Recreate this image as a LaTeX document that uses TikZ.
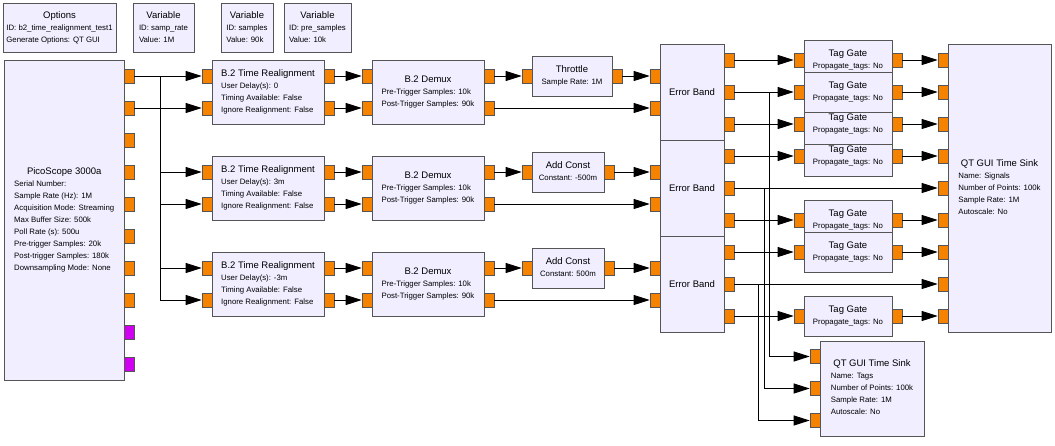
\documentclass[tikz,border=0pt]{standalone}
\usepackage{fontspec}
\setmainfont{Liberation Sans}
\usepackage{xcolor}
\definecolor{blkfill}{HTML}{F1EEFF}
\definecolor{blkline}{HTML}{555555}
\definecolor{portorange}{HTML}{F58200}
\definecolor{portmagenta}{HTML}{D000F0}
\usepackage{tikz}
\usetikzlibrary{arrows.meta}
\newcommand{\grcpar}{\fontsize{7.8}{12}\selectfont}
\newcommand{\grctitle}{\fontsize{9.5}{12}\selectfont}
\newcommand{\blocktext}[2]{\begin{tabular}{@{}l@{}}\multicolumn{1}{@{}c@{}}{\grctitle #1}\\#2\end{tabular}}

\begin{document}
\begin{tikzpicture}[x=1pt, y=-1pt,
  blk/.style={draw=blkline, line width=0.8pt, fill=blkfill, inner sep=0pt, font=\grcpar},
  wh/.style 2 args={minimum width=#1pt, minimum height=#2pt},
  prt/.style={draw=blkline, line width=0.6pt, fill=portorange, minimum width=10pt, minimum height=14pt, inner sep=0pt},
  bprt/.style={prt, fill=portmagenta},
  arr/.style={-{Triangle[length=16pt, width=10pt]}, line width=0.9pt}]
  \useasboundingbox (0,0) rectangle (1055,445);
  % variables and options
  \node[blk, wh={113}{49}] (opts) at (59.5,28)  {\blocktext{Options}{ID: b2\_time\_realignment\_test1\\Generate Options: QT GUI}};
  \node[blk, wh={61}{49}]  (var1) at (163.5,28) {\blocktext{Variable}{ID: samp\_rate\\Value: 1M}};
  \node[blk, wh={52}{49}]  (var2) at (247,28)   {\blocktext{Variable}{ID: samples\\Value: 90k}};
  \node[blk, wh={67}{49}]  (var3) at (317.5,28) {\blocktext{Variable}{ID: pre\_samples\\Value: 10k}};
  % source
  \node[blk, wh={119.5}{320}] (pico) at (64.25,220) {\blocktext{PicoScope 3000a}{Serial Number:\\Sample Rate (Hz): 1M\\Acquisition Mode: Streaming\\Max Buffer Size: 500k\\Poll Rate (s): 500u\\Pre-trigger Samples: 20k\\Post-trigger Samples: 180k\\Downsampling Mode: None}};
  \foreach \k in {1,...,8} \node[prt] (po\k) at (129,{44+32*\k}) {};
  \foreach \k in {9,10} \node[bprt] (po\k) at (129,{44+32*\k}) {};
  % realignment and demux rows
  \foreach \r/\d in {1/0,2/3m,3/-3m} {
    \node[blk, wh={112}{64}] (tr\r) at (268,{-4+96*\r}) {\blocktext{B.2 Time Realignment}{User Delay(s): \d\\Timing Available: False\\Ignore Realignment: False}};
    \node[blk, wh={112}{64}] (dm\r) at (428,{-4+96*\r}) {\blocktext{B.2 Demux}{Pre-Trigger Samples: 10k\\Post-Trigger Samples: 90k}};
    \node[blk, wh={64}{96}] (eb\r) at (692,{-4+96*\r}) {\grctitle Error Band};
    \foreach \p/\y in {1/-20,2/12} {
      \node[prt] (tr\r-in\p)  at (207,{\y+96*\r}) {};
      \node[prt] (tr\r-out\p) at (329,{\y+96*\r}) {};
      \node[prt] (dm\r-in\p)  at (367,{\y+96*\r}) {};
      \node[prt] (dm\r-out\p) at (489,{\y+96*\r}) {};
      \node[prt] (eb\r-in\p)  at (655,{\y+96*\r}) {};
    }
    \foreach \p/\y in {1/-36,2/-4,3/28} \node[prt] (eb\r-out\p) at (729,{\y+96*\r}) {};
  }
  \node[blk, wh={80}{40}] (mid1) at (572,76)  {\blocktext{Throttle}{Sample Rate: 1M}};
  \node[blk, wh={72}{40}] (mid2) at (568,172) {\blocktext{Add Const}{Constant: -500m}};
  \node[blk, wh={72}{40}] (mid3) at (568,268) {\blocktext{Add Const}{Constant: 500m}};
  \node[prt] (mid1-in) at (527,76)  {};
  \node[prt] (mid1-out) at (617,76) {};
  \node[prt] (mid2-in) at (527,172) {};
  \node[prt] (mid2-out) at (609,172) {};
  \node[prt] (mid3-in) at (527,268) {};
  \node[prt] (mid3-out) at (609,268) {};
  % tag gates
  \foreach \k/\y in {1/60,4/156,3/124,2/92,5/220,6/252,7/316} {
    \node[blk, wh={88}{40}] (tg\k) at (848,\y) {\blocktext{Tag Gate}{Propagate\_tags: No}};
    \node[prt] (tg\k-in) at (799,\y) {};
    \node[prt] (tg\k-out) at (897,\y) {};
  }
  % sinks
  \node[blk, wh={103}{288}] (sig) at (999.5,188) {\blocktext{QT GUI Time Sink}{Name: Signals\\Number of Points: 100k\\Sample Rate: 1M\\Autoscale: No}};
  \foreach \k in {1,...,9} \node[prt] (sig-in\k) at (943,{28+32*\k}) {};
  \node[blk, wh={104}{95}] (tags) at (872,388.5) {\blocktext{QT GUI Time Sink}{Name: Tags\\Number of Points: 100k\\Sample Rate: 1M\\Autoscale: No}};
  \foreach \k in {1,2,3} \node[prt] (tag-in\k) at (815,{324.5+32*\k}) {};
  % connections
  \coordinate (sp1) at (160,76);
  \coordinate (sp2) at (160,108);
  \draw[arr] (po1.east) -- (tr1-in1.west);
  \draw[arr] (po2.east) -- (tr1-in2.west);
  \foreach \r in {2,3} {
    \draw[arr] (po1.east) -- (sp1) |- (tr\r-in1.west);
    \draw[arr] (po2.east) -- (sp2) |- (tr\r-in2.west);
  }
  \foreach \r in {1,2,3} {
    \draw[arr] (tr\r-out1.east) -- (dm\r-in1.west);
    \draw[arr] (tr\r-out2.east) -- (dm\r-in2.west);
    \draw[arr] (dm\r-out1.east) -- (mid\r-in.west);
    \draw[arr] (mid\r-out.east) -- (eb\r-in1.west);
    \draw[arr] (dm\r-out2.east) -- (eb\r-in2.west);
  }
  \foreach \e/\t in {eb1-out1/tg1-in, eb1-out2/tg2-in, eb1-out3/tg3-in, eb2-out1/tg4-in, eb2-out2/sig-in5, eb2-out3/tg5-in, eb3-out1/tg6-in, eb3-out2/sig-in8, eb3-out3/tg7-in}
    \draw[arr] (\e.east) -- (\t.west);
  \foreach \k/\s in {1/1,2/2,3/3,4/4,5/6,6/7,7/9}
    \draw[arr] (tg\k-out.east) -- (sig-in\s.west);
  \foreach \r/\x in {1/769,2/764,3/758.5} {
    \coordinate (tj\r) at (\x,{-4+96*\r});
    \draw[arr] (eb\r-out2.east) -- (tj\r) |- (tag-in\r.west);
  }
\end{tikzpicture}
\end{document}
